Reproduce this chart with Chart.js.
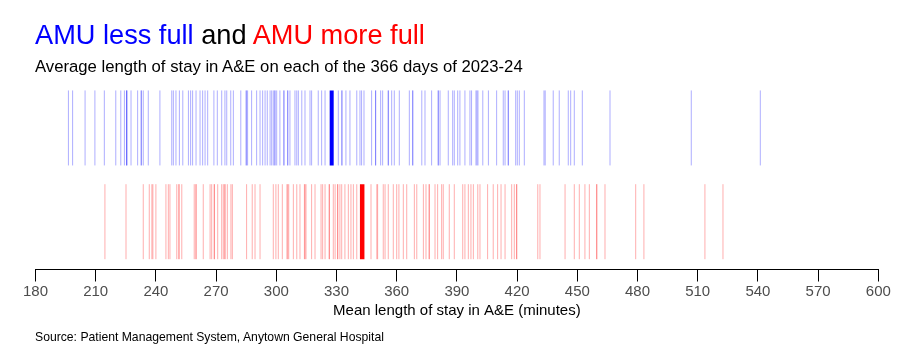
<!DOCTYPE html>
<html>
<head>
<meta charset="utf-8">
<script src="https://cdn.jsdelivr.net/npm/chart.js@4"></script>
<style>
  body { margin: 0; background: #fff; font-family: "Liberation Sans", Arial, sans-serif; }
  #wrap { position: relative; width: 902px; height: 363px; }
  .txt { position: absolute; left: 35px; white-space: nowrap; }
  #title { top: 21px; font-size: 27.2px; line-height: 27px; }
  #subtitle { top: 58px; font-size: 16.7px; line-height: 17px; color: #000; }
  #source { top: 331px; font-size: 12.2px; line-height: 12px; color: #000; }
  canvas { position: absolute; left: 0; top: 0; }
</style>
</head>
<body>
<div id="wrap">
  <canvas id="rugChart" width="902" height="363"></canvas>
  <div id="title" class="txt"><span style="color:#0000ff">AMU less full</span> <span style="color:#000">and</span> <span style="color:#ff0000">AMU more full</span></div>
  <div id="subtitle" class="txt">Average length of stay in A&amp;E on each of the 366 days of 2023-24</div>
  <div id="source" class="txt">Source: Patient Management System, Anytown General Hospital</div>
</div>
<script>
// mean length of stay (minutes) per day
const lessFullStays = [
  196.4, 198.5, 204.7, 209.6, 214.3, 220, 222.5, 224.3, 225.4, 225.4, 225.6, 227.6, 230.9, 232.6, 232.8,
  233.7, 236.2, 242, 247.9, 248.7, 250, 251.7, 253.4, 256.2, 257.3, 258.3, 260, 262, 263.3, 264.5, 265.8,
  268.9, 270.6, 272.8, 274.4, 275.3, 277.3, 278.6, 282.3, 284.9, 285.2, 285.7, 287.7, 290.2, 291.9, 293.2,
  294.4, 295.5, 296.9, 297.7, 298.5, 299.3, 299.3, 300.2, 301.8, 303.8, 303.8, 305.7, 305.7, 306.8, 309.3,
  310.2, 311, 312.7, 314.3, 316.8, 317.6, 320.9, 322.6, 324.3, 330.9, 332.6, 332.8, 334.7, 336.7, 340.1, 341.7,
  342.5, 343.7, 347.5, 349.5, 349.5, 352, 353, 355.8, 355.8, 357.5, 358.8, 361.3, 366.3, 368, 368, 372.5,
  374.1, 377.4, 380.7, 380.7, 381.6, 385.7, 387.9, 388.7, 390.4, 391.5, 394, 396.5, 397.3, 399.5, 400, 400.5,
  402.9, 405.7, 409.8, 413.1, 414, 415.6, 415.6,
  419.3, 420.1, 421.1, 423.6, 433.4, 434, 438, 441, 445.5, 446.7, 448.5, 452.5, 466.3,
  506.8, 541.2
];
const moreFullStays = [
  214.6, 225.1, 233.7, 236.7, 238, 238.5, 240, 245, 246.2, 247, 250.4, 251.5, 251.5, 252.9, 259.1, 260, 260,
  263.6, 267, 267.8, 269.1, 269.1, 270.8, 272.8, 273.6, 274.4, 274.4, 275.6, 277.4, 278.1,
  285.2, 288, 289.4, 291.9, 298.5, 299.8, 301, 303, 305.3, 305.7, 306.2, 308.5, 310.2, 311.8, 314, 314.3,
  314.8, 317.6, 319.3, 322.3, 323.1, 324.3, 326.4, 326.4, 328.4, 329.3, 330.6, 330.6, 331.7, 332.6, 334.2,
  335.9, 337.2, 338.4, 340.1, 347.2, 350.1, 350.5, 353.3, 354.2, 355.8, 358.3,
  360, 361.1, 363.3, 365, 368.8, 370, 373.3, 374.6, 376.2, 376.2, 379.1, 380.4, 382.4, 383.2, 386.2, 388.7,
  392.9, 394, 395.7, 397, 398.2, 400.4, 401.5, 405.3, 408.1, 410.3, 412, 414, 417.3, 418.6, 419.8, 419.8,
  430.3, 431.4,
  443.9, 448.5, 451, 453.8, 456, 459.7, 459.7, 463.8, 479.1, 483.2, 513.6, 522.6
];
const lessFullMedian = [327.6];
const moreFullMedian = [342.8];
const xTicks = [180, 210, 240, 270, 300, 330, 360, 390, 420, 450, 480, 510, 540, 570, 600];

const ROW_LESS = 2, ROW_MORE = 1;

function rug(values, row, color, width) {
  return {
    data: values.map(v => ({ x: v, y: row })),
    pointStyle: 'line',
    rotation: 90,
    pointRadius: 37.5,
    pointHoverRadius: 37.5,
    borderColor: color,
    backgroundColor: color,
    pointBorderWidth: width,
    showLine: false
  };
}

new Chart(document.getElementById('rugChart'), {
  type: 'scatter',
  data: {
    datasets: [
      rug(lessFullStays, ROW_LESS, 'rgba(0,0,255,0.32)', 1),
      rug(moreFullStays, ROW_MORE, 'rgba(255,0,0,0.32)', 1),
      rug(lessFullMedian, ROW_LESS, '#0000ff', 4),
      rug(moreFullMedian, ROW_MORE, '#ff0000', 4.5)
    ]
  },
  options: {
    responsive: false,
    animation: false,
    events: [],
    layout: { autoPadding: false, padding: { left: 35.5, right: 23.7, top: 82, bottom: 43.5 } },
    plugins: { legend: { display: false }, tooltip: { enabled: false } },
    scales: {
      y: { display: false, min: 0.49, max: 2.49 },
      x: {
        type: 'linear',
        min: 180,
        max: 600,
        afterBuildTicks: axis => { axis.ticks = xTicks.map(v => ({ value: v })); },
        grid: { drawOnChartArea: false, drawTicks: true, tickLength: 12, color: '#000' },
        border: { display: true, color: '#000', width: 1 },
        ticks: {
          color: '#4d4d4d',
          padding: 1,
          font: { family: '"Liberation Sans", Arial, sans-serif', size: 15 }
        },
        title: {
          display: true,
          text: 'Mean length of stay in A&E (minutes)',
          color: '#000',
          padding: { top: 0, bottom: 0 },
          font: { family: '"Liberation Sans", Arial, sans-serif', size: 15 }
        }
      }
    }
  }
});
</script>
</body>
</html>
